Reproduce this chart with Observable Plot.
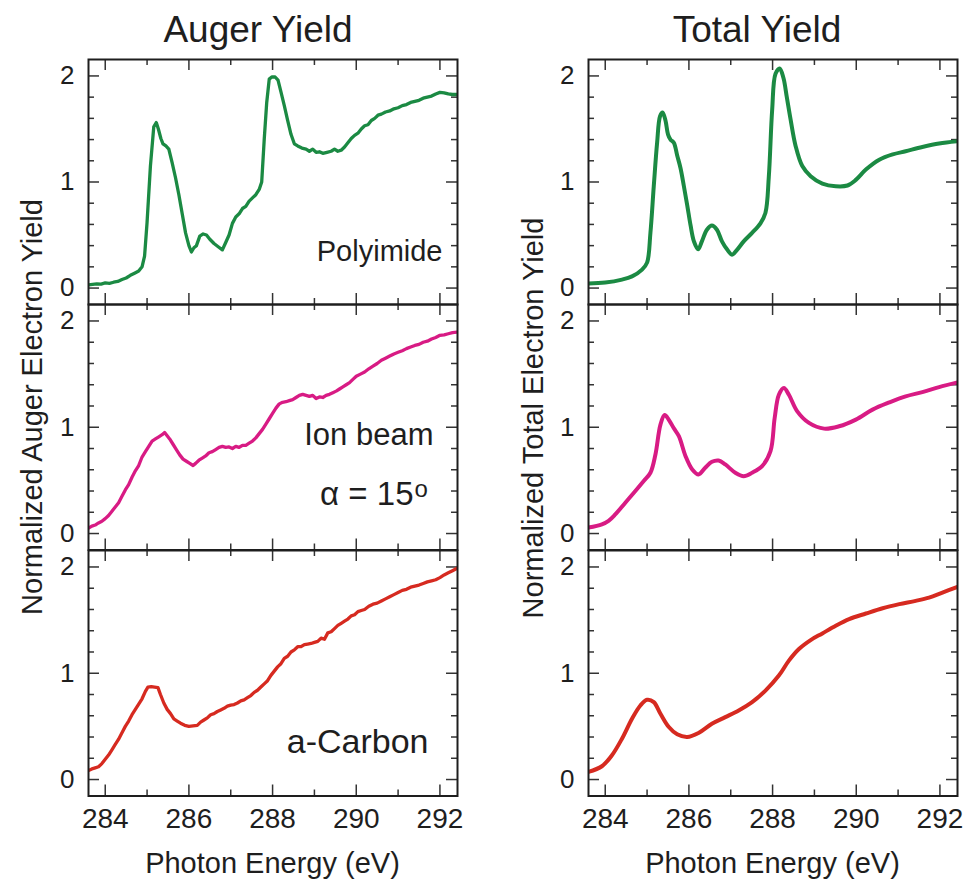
<!DOCTYPE html>
<html><head><meta charset="utf-8">
<script src="https://cdn.jsdelivr.net/npm/d3@7"></script>
<script src="https://cdn.jsdelivr.net/npm/@observablehq/plot@0.6"></script>
<style>
html,body{margin:0;padding:0;background:#fff;overflow:hidden}
#root{position:relative;width:979px;height:882px;font-family:"Liberation Sans",Arial,Helvetica,sans-serif}
#root svg{position:absolute}
</style></head><body><div id="root"></div><script>
// ---------- data: [photon energy (eV), normalized yield] ----------
const augerPolyimide = [[283.60,0.03],[283.70,0.035],[283.80,0.04],[283.90,0.038],[284.00,0.048],[284.10,0.045],[284.20,0.055],[284.30,0.062],[284.40,0.08],[284.50,0.095],[284.60,0.12],[284.70,0.14],[284.80,0.16],[284.88,0.20],[284.94,0.30],[285.00,0.62],[285.08,1.15],[285.16,1.52],[285.22,1.56],[285.27,1.50],[285.33,1.41],[285.38,1.36],[285.45,1.34],[285.52,1.31],[285.60,1.18],[285.68,1.04],[285.76,0.88],[285.84,0.70],[285.92,0.52],[286.00,0.40],[286.06,0.34],[286.12,0.38],[286.18,0.40],[286.26,0.49],[286.34,0.51],[286.42,0.50],[286.50,0.46],[286.60,0.42],[286.70,0.39],[286.80,0.36],[286.88,0.43],[286.96,0.50],[287.04,0.61],[287.12,0.67],[287.20,0.70],[287.28,0.75],[287.36,0.77],[287.44,0.82],[287.52,0.85],[287.60,0.88],[287.68,0.93],[287.74,1.00],[287.80,1.40],[287.86,1.75],[287.92,1.97],[287.98,1.99],[288.06,1.99],[288.13,1.96],[288.20,1.85],[288.28,1.72],[288.36,1.58],[288.44,1.45],[288.52,1.36],[288.60,1.34],[288.70,1.32],[288.80,1.31],[288.88,1.29],[288.96,1.31],[289.04,1.28],[289.12,1.285],[289.20,1.27],[289.30,1.28],[289.40,1.29],[289.48,1.31],[289.56,1.29],[289.64,1.30],[289.72,1.33],[289.80,1.37],[289.88,1.41],[289.96,1.44],[290.04,1.46],[290.12,1.50],[290.20,1.53],[290.28,1.54],[290.36,1.58],[290.44,1.60],[290.52,1.63],[290.60,1.64],[290.70,1.66],[290.80,1.67],[290.90,1.69],[291.00,1.70],[291.10,1.72],[291.20,1.73],[291.30,1.75],[291.40,1.76],[291.50,1.77],[291.60,1.79],[291.70,1.80],[291.80,1.81],[291.90,1.83],[292.00,1.845],[292.10,1.84],[292.20,1.83],[292.30,1.825],[292.42,1.825]];
const totalPolyimide = [[283.60,0.042],[284.00,0.052],[284.40,0.08],[284.64,0.11],[284.88,0.174],[285.00,0.24],[285.08,0.52],[285.16,0.96],[285.24,1.37],[285.31,1.62],[285.37,1.655],[285.44,1.58],[285.50,1.45],[285.56,1.40],[285.64,1.37],[285.72,1.25],[285.80,1.13],[285.88,0.96],[285.96,0.78],[286.04,0.59],[286.12,0.44],[286.22,0.365],[286.31,0.44],[286.43,0.55],[286.55,0.59],[286.67,0.55],[286.79,0.44],[286.91,0.365],[287.03,0.315],[287.15,0.36],[287.31,0.44],[287.51,0.52],[287.71,0.61],[287.83,0.71],[287.91,1.05],[287.99,1.68],[288.07,2.02],[288.17,2.07],[288.26,1.98],[288.34,1.80],[288.43,1.59],[288.55,1.34],[288.71,1.15],[288.91,1.055],[289.19,0.985],[289.51,0.96],[289.79,0.967],[289.99,1.02],[290.23,1.117],[290.55,1.21],[290.87,1.26],[291.18,1.29],[291.58,1.33],[291.98,1.363],[292.42,1.385]];
const augerIonBeam = [[283.60,0.05],[283.68,0.07],[283.76,0.08],[283.84,0.10],[283.92,0.115],[284.00,0.14],[284.08,0.17],[284.16,0.21],[284.24,0.25],[284.32,0.29],[284.40,0.35],[284.48,0.41],[284.56,0.46],[284.64,0.53],[284.72,0.59],[284.80,0.64],[284.88,0.72],[284.96,0.77],[285.04,0.82],[285.12,0.87],[285.20,0.89],[285.28,0.91],[285.36,0.93],[285.42,0.95],[285.48,0.92],[285.54,0.89],[285.62,0.84],[285.70,0.79],[285.78,0.74],[285.86,0.70],[285.94,0.68],[286.02,0.66],[286.10,0.64],[286.16,0.66],[286.24,0.69],[286.32,0.71],[286.40,0.73],[286.48,0.76],[286.56,0.77],[286.64,0.79],[286.72,0.81],[286.80,0.82],[286.88,0.81],[286.96,0.815],[287.04,0.80],[287.12,0.82],[287.20,0.81],[287.28,0.83],[287.36,0.83],[287.44,0.85],[287.52,0.87],[287.60,0.90],[287.68,0.94],[287.76,0.98],[287.84,1.03],[287.92,1.08],[288.00,1.13],[288.08,1.18],[288.16,1.22],[288.24,1.235],[288.32,1.24],[288.40,1.25],[288.48,1.26],[288.56,1.28],[288.64,1.30],[288.72,1.31],[288.80,1.30],[288.88,1.29],[288.96,1.30],[289.04,1.27],[289.12,1.285],[289.20,1.28],[289.28,1.30],[289.36,1.31],[289.44,1.325],[289.52,1.34],[289.60,1.36],[289.68,1.38],[289.76,1.40],[289.84,1.42],[289.92,1.45],[290.00,1.48],[290.10,1.50],[290.20,1.52],[290.30,1.55],[290.40,1.575],[290.50,1.60],[290.60,1.63],[290.70,1.65],[290.80,1.67],[290.90,1.69],[291.00,1.705],[291.10,1.72],[291.20,1.74],[291.30,1.755],[291.40,1.77],[291.50,1.78],[291.60,1.80],[291.70,1.81],[291.80,1.83],[291.90,1.845],[292.00,1.865],[292.10,1.87],[292.20,1.88],[292.30,1.89],[292.42,1.895]];
const totalIonBeam = [[283.60,0.056],[283.92,0.087],[284.08,0.12],[284.24,0.18],[284.48,0.29],[284.72,0.40],[284.92,0.494],[285.08,0.572],[285.20,0.744],[285.32,1.025],[285.42,1.115],[285.52,1.07],[285.64,0.99],[285.76,0.916],[285.92,0.728],[286.08,0.603],[286.23,0.556],[286.39,0.619],[286.55,0.675],[286.71,0.687],[286.87,0.65],[287.11,0.572],[287.31,0.54],[287.51,0.572],[287.75,0.634],[287.95,0.775],[288.05,1.087],[288.15,1.306],[288.27,1.37],[288.39,1.306],[288.59,1.15],[288.87,1.041],[289.23,0.987],[289.59,1.009],[289.99,1.072],[290.39,1.166],[290.79,1.234],[291.18,1.291],[291.58,1.331],[291.98,1.378],[292.42,1.422]];
const augerCarbon = [[283.60,0.085],[283.68,0.10],[283.76,0.11],[283.84,0.12],[283.92,0.15],[284.00,0.19],[284.08,0.23],[284.16,0.28],[284.24,0.33],[284.32,0.38],[284.40,0.44],[284.48,0.50],[284.56,0.55],[284.64,0.61],[284.72,0.66],[284.80,0.71],[284.88,0.76],[284.96,0.83],[285.02,0.87],[285.10,0.875],[285.18,0.87],[285.26,0.865],[285.32,0.80],[285.40,0.72],[285.48,0.66],[285.56,0.62],[285.64,0.57],[285.72,0.55],[285.80,0.53],[285.90,0.51],[286.00,0.50],[286.10,0.505],[286.20,0.51],[286.28,0.54],[286.36,0.56],[286.44,0.58],[286.52,0.61],[286.60,0.62],[286.68,0.64],[286.76,0.655],[286.84,0.67],[286.92,0.69],[287.00,0.70],[287.08,0.705],[287.16,0.72],[287.24,0.74],[287.32,0.75],[287.40,0.77],[287.48,0.79],[287.56,0.82],[287.64,0.84],[287.72,0.87],[287.80,0.90],[287.88,0.93],[287.96,0.98],[288.04,1.02],[288.12,1.06],[288.20,1.09],[288.28,1.14],[288.36,1.16],[288.44,1.20],[288.52,1.22],[288.60,1.25],[288.68,1.25],[288.76,1.27],[288.84,1.275],[288.92,1.28],[289.00,1.29],[289.08,1.30],[289.16,1.33],[289.24,1.32],[289.32,1.38],[289.40,1.39],[289.48,1.42],[289.56,1.45],[289.64,1.47],[289.72,1.49],[289.80,1.51],[289.88,1.54],[289.96,1.55],[290.04,1.58],[290.12,1.59],[290.20,1.60],[290.30,1.63],[290.40,1.65],[290.50,1.66],[290.60,1.68],[290.70,1.70],[290.80,1.72],[290.90,1.74],[291.00,1.76],[291.10,1.78],[291.20,1.79],[291.30,1.81],[291.40,1.82],[291.50,1.83],[291.60,1.845],[291.70,1.86],[291.80,1.87],[291.90,1.88],[292.00,1.90],[292.10,1.925],[292.20,1.945],[292.30,1.965],[292.42,1.99]];
const totalCarbon = [[283.60,0.072],[283.92,0.125],[284.16,0.228],[284.40,0.384],[284.64,0.572],[284.84,0.697],[285.00,0.75],[285.16,0.728],[285.32,0.619],[285.52,0.494],[285.72,0.425],[285.96,0.40],[286.23,0.438],[286.55,0.525],[286.87,0.587],[287.19,0.65],[287.51,0.728],[287.83,0.837],[288.15,0.978],[288.39,1.119],[288.63,1.228],[288.91,1.312],[289.19,1.375],[289.51,1.447],[289.83,1.509],[290.23,1.562],[290.63,1.612],[291.03,1.65],[291.42,1.681],[291.74,1.712],[292.06,1.759],[292.42,1.812]];

// ---------- axes / labels ----------
const xDomain = [283.6, 292.42];
const yDomain = [-0.155, 2.155];
const xMajorTicks = [284, 286, 288, 290, 292];
const xMinorTicks = [285, 287, 289, 291];
const yMajorTicks = [0, 1, 2];
const yMinorTicks = [0.2, 0.4, 0.6, 0.8, 1.2, 1.4, 1.6, 1.8];
const columnTitles = ["Auger Yield", "Total Yield"];
const yAxisLabels = ["Normalized Auger Electron Yield", "Normalized Total Electron Yield"];
const xAxisLabel = "Photon Energy (eV)";
const sampleColors = ["#1b8a43", "#d81b84", "#d62a20"];

const FONT = '"Liberation Sans", Arial, Helvetica, sans-serif';
const INK = "#1e1e1e";
const root = document.getElementById("root");

const rows = [{top: 59, h: 245}, {top: 304, h: 245.5}, {top: 549.5, h: 245.5}];
const cols = [{left: 0}, {left: 500}];
const FW = 369, ML = 88, MR = 22, MT = 8;

function panel(col, row, data, color, kind, notes) {
  const {top, h} = rows[row];
  const bottom = row === 2;
  const MB = bottom ? 62 : 8;
  const tick = {stroke: "#333", strokeWidth: 1.5};
  const marks = [
    Plot.ruleX(xMajorTicks, {...tick, insetTop: h - 11}),
    Plot.ruleX(xMajorTicks, {...tick, insetBottom: h - 11}),
    Plot.ruleX(xMinorTicks, {...tick, insetTop: h - 6}),
    Plot.ruleX(xMinorTicks, {...tick, insetBottom: h - 6}),
    Plot.ruleY(yMajorTicks, {...tick, insetRight: FW - 11}),
    Plot.ruleY(yMajorTicks, {...tick, insetLeft: FW - 11}),
    Plot.ruleY(yMinorTicks, {...tick, insetRight: FW - 6}),
    Plot.ruleY(yMinorTicks, {...tick, insetLeft: FW - 6}),
    Plot.line(data, {x: d => d[0], y: d => d[1], stroke: color,
      strokeWidth: kind === "auger" ? 3.3 : 4, curve: kind === "auger" ? "linear" : "catmull-rom",
      strokeLinejoin: "round", strokeLinecap: "round", clip: true}),
    Plot.frame({stroke: INK, strokeWidth: 2}),
    Plot.text(yMajorTicks, {y: d => d, text: d => String(d), frameAnchor: "left", dx: -14,
      textAnchor: "end", fontSize: 26, fill: INK})
  ];
  if (bottom) {
    marks.push(Plot.text(xMajorTicks, {x: d => d, text: d => String(d), frameAnchor: "bottom",
      dy: 32, fontSize: 28, fill: INK}));
  }
  for (const n of notes) {
    marks.push(Plot.text([n.text], {frameAnchor: "top-right", text: d => d, dx: n.dx, dy: n.dy,
      lineAnchor: "bottom", textAnchor: n.anchor || "end", fontSize: n.size, fill: INK}));
  }
  const svg = Plot.plot({
    width: ML + FW + MR, height: MT + h + MB,
    marginLeft: ML, marginRight: MR, marginTop: MT, marginBottom: MB,
    x: {domain: xDomain, axis: null},
    y: {domain: yDomain, axis: null},
    style: {background: "transparent", fontFamily: FONT, overflow: "visible"},
    marks
  });
  svg.style.left = cols[col].left + "px";
  svg.style.top = (top - MT) + "px";
  root.appendChild(svg);
}

panel(0, 0, augerPolyimide, sampleColors[0], "auger", [{text: "Polyimide", dx: -15, dy: 201, size: 29}]);
panel(1, 0, totalPolyimide, sampleColors[0], "total", []);
panel(0, 1, augerIonBeam, sampleColors[1], "auger", [
  {text: "Ion beam", dx: -24, dy: 140, size: 31},
  {text: "α = 15", dx: -44, dy: 200, size: 33},
  {text: "o", dx: -43, dy: 192, size: 24, anchor: "start"}
]);
panel(1, 1, totalIonBeam, sampleColors[1], "total", []);
panel(0, 2, augerCarbon, sampleColors[2], "auger", [{text: "a-Carbon", dx: -29, dy: 202, size: 34}]);
panel(1, 2, totalCarbon, sampleColors[2], "total", []);

// overlay: titles and axis labels
const ov = d3.select(root).append("svg").attr("width", 979).attr("height", 882)
  .style("left", "0px").style("top", "0px").style("pointer-events", "none")
  .style("font-family", FONT).attr("fill", INK);
const colCenters = [272.5, 772.5];
ov.selectAll("text.title").data(columnTitles).join("text").attr("class", "title")
  .attr("x", (d, i) => [258, 757][i]).attr("y", 42).attr("text-anchor", "middle")
  .attr("font-size", 37).text(d => d);
ov.selectAll("text.xlab").data(colCenters).join("text").attr("class", "xlab")
  .attr("x", d => d).attr("y", 873).attr("text-anchor", "middle")
  .attr("font-size", 29).text(xAxisLabel);
ov.selectAll("text.ylab").data(yAxisLabels).join("text").attr("class", "ylab")
  .attr("transform", (d, i) => i === 0 ? "translate(42,407) rotate(-90)" : "translate(543,418) rotate(-90)")
  .attr("text-anchor", "middle").attr("font-size", 29).text(d => d);
</script></body></html>
